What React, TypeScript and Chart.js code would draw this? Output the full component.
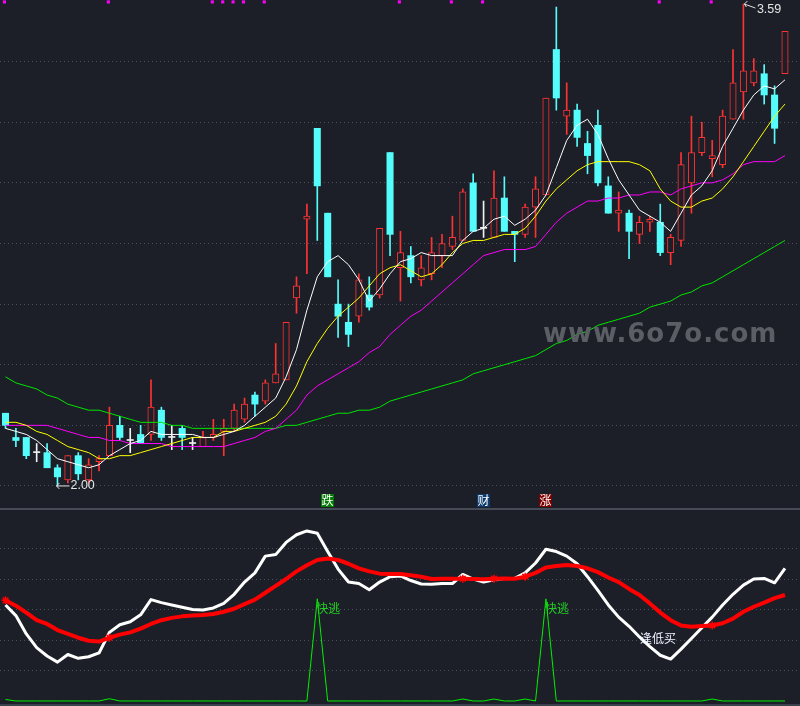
import React, { useEffect, useRef } from 'react';
import { Chart, registerables } from 'chart.js';

Chart.register(...registerables);

// ---------- DATA ----------
const openP = [2.24,2.16,2.16,2.11,2.11,2.06,2.02,2.10,2.02,2.08, 2.10,2.20,2.15,2.17,2.17,2.25,2.16,2.19,2.14,2.13, 2.16,2.18,2.19,2.22,2.30,2.28,2.34,2.35,2.62,2.88, 3.18,2.90,2.60,2.54,2.56,2.63,2.63,3.10,2.72,2.76, 2.68,2.70,2.76,2.79,2.81,3.00,2.85,2.82,2.95,2.84, 2.83,2.92,2.96,3.44,3.22,3.24,3.13,3.19,2.99,2.90, 2.90,2.83,2.87,2.87,2.77,2.81,3.00,3.10,3.08,3.06, 3.21,3.30,3.33,3.36,3.29,3.36];
const highP = [2.24,2.19,2.16,2.14,2.14,2.07,2.10,2.11,2.09,2.10, 2.26,2.23,2.19,2.20,2.35,2.26,2.20,2.20,2.16,2.18, 2.22,2.22,2.27,2.29,2.31,2.35,2.47,2.54,2.69,2.93, 3.18,2.90,2.68,2.60,2.70,2.69,2.85,3.10,2.84,2.79, 2.76,2.82,2.83,2.89,2.98,3.03,2.94,3.04,3.02,2.84, 2.93,3.02,3.28,3.58,3.33,3.26,3.17,3.24,3.02,2.97, 2.91,2.89,2.89,2.93,2.83,3.10,3.22,3.20,3.14,3.24, 3.44,3.59,3.41,3.39,3.32,3.50];
const lowP = [2.19,2.13,2.09,2.08,2.06,2.00,2.01,2.02,2.01,2.05, 2.10,2.15,2.11,2.14,2.15,2.15,2.12,2.12,2.12,2.13, 2.15,2.10,2.18,2.21,2.23,2.27,2.34,2.35,2.57,2.70, 2.81,2.69,2.49,2.46,2.54,2.58,2.62,2.76,2.61,2.67, 2.66,2.68,2.72,2.78,2.81,2.84,2.82,2.82,2.84,2.74, 2.82,2.82,2.96,3.24,3.16,3.12,3.03,2.99,2.90,2.84, 2.75,2.80,2.84,2.76,2.73,2.79,2.90,3.09,3.02,3.05, 3.21,3.21,3.32,3.26,3.13,3.36];
const closeP = [2.20,2.15,2.10,2.11,2.06,2.03,2.10,2.04,2.07,2.09, 2.20,2.16,2.15,2.14,2.26,2.16,2.16,2.16,2.14,2.16, 2.17,2.19,2.25,2.27,2.27,2.34,2.37,2.54,2.66,2.89, 2.99,2.69,2.56,2.50,2.68,2.59,2.85,2.83,2.77,2.69, 2.72,2.77,2.80,2.82,2.97,2.84,2.85,2.95,2.84,2.83, 2.92,2.98,3.28,3.28,3.24,3.15,3.09,3.00,2.90,2.91, 2.84,2.87,2.88,2.77,2.82,3.06,3.10,3.15,3.09,3.22, 3.33,3.37,3.37,3.29,3.18,3.50];

const ma5 = [2.19,2.18,2.17,2.15,2.12,2.09,2.08,2.07,2.06,2.07, 2.10,2.12,2.14,2.15,2.18,2.17,2.17,2.17,2.17,2.16, 2.16,2.17,2.18,2.20,2.23,2.26,2.29,2.36,2.45,2.58, 2.69,2.74,2.76,2.73,2.68,2.61,2.65,2.70,2.74,2.75, 2.77,2.76,2.76,2.76,2.81,2.84,2.85,2.88,2.89,2.86, 2.88,2.91,2.96,3.05,3.14,3.19,3.21,3.16,3.08,3.01, 2.96,2.91,2.89,2.87,2.84,2.90,2.96,2.99,3.04,3.12, 3.18,3.24,3.29,3.32,3.31,3.34];
const ma10 = [2.21,2.21,2.20,2.18,2.17,2.15,2.13,2.12,2.11,2.09, 2.09,2.10,2.10,2.11,2.12,2.13,2.14,2.15,2.16,2.16, 2.16,2.18,2.18,2.19,2.20,2.21,2.23,2.27,2.33,2.41, 2.47,2.52,2.56,2.59,2.62,2.66,2.70,2.72,2.73,2.71, 2.69,2.70,2.73,2.77,2.80,2.81,2.81,2.82,2.83,2.83, 2.85,2.89,2.94,2.98,3.01,3.04,3.06,3.07,3.07,3.07, 3.07,3.06,3.04,2.98,2.94,2.92,2.92,2.94,2.95,2.98, 3.02,3.07,3.12,3.17,3.22,3.26];
const ma20 = [2.20,2.20,2.20,2.20,2.20,2.19,2.18,2.17,2.16,2.16, 2.15,2.15,2.14,2.14,2.14,2.14,2.13,2.13,2.13,2.13, 2.13,2.13,2.14,2.15,2.16,2.18,2.19,2.22,2.25,2.30, 2.33,2.35,2.37,2.39,2.41,2.44,2.46,2.50,2.53,2.56, 2.58,2.61,2.64,2.67,2.70,2.73,2.76,2.77,2.78,2.78, 2.78,2.79,2.83,2.87,2.90,2.92,2.94,2.94,2.95,2.95, 2.96,2.96,2.97,2.97,2.96,2.98,2.99,3.00,3.00,3.01, 3.03,3.06,3.07,3.07,3.07,3.09];
const ma60 = [2.36,2.34,2.33,2.32,2.30,2.29,2.27,2.26,2.25,2.25, 2.24,2.23,2.22,2.21,2.21,2.21,2.20,2.20,2.19,2.19, 2.19,2.19,2.19,2.19,2.19,2.19,2.19,2.20,2.20,2.21, 2.22,2.23,2.24,2.24,2.25,2.25,2.26,2.28,2.29,2.30, 2.31,2.32,2.33,2.34,2.35,2.37,2.38,2.39,2.40,2.41, 2.42,2.43,2.45,2.47,2.48,2.50,2.51,2.53,2.54,2.55, 2.56,2.57,2.59,2.60,2.61,2.63,2.64,2.66,2.67,2.69, 2.71,2.73,2.75,2.77,2.79,2.81];

// top magenta markers (candle indices)
const topMarkIdx = [0,10,20,21,22,23,25,38,43,46,63,68];
// signal boxes under the candles
const signalIdx = [31,46,52];
const signalText = ['跌','财','涨'];
const signalBg = ['#007a00','#0c3b70','#7c0000'];

// lower oscillator
const oscFast = [63,56,44,35,29.5,25.5,30.5,28,29,31.5, 45,50,52,56.5,66.5,64.5,63,61.5,60,59.7, 61,64,70,78,84,95,96,104,109,111.5, 110,98,86.5,78,77,73,78,81.5,82,79, 76.7,76.5,77,77,83,80,78,79.5,80.4,80.4, 84,90.5,99.5,98,95,90,81.5,72.5,63,55, 49,42,35.6,30,27.5,34,41,48,55,63, 70,76,80,80.4,77.5,87];
const oscSlow = [66,62.5,58,53,50.5,46.5,44,41.5,39.5,39, 41.5,43.5,45,47.5,50.5,53,54.5,55.5,56,56.4, 57,58.5,60.5,63.5,66.5,71,75.5,80,85,89, 92.5,93.5,92.5,90,87,85,83.5,83.3,83.3,82.5, 81.5,80,80.2,80.2,80.2,80,79.8,80.2,80.4,80.2, 81.5,84,87.5,88.5,89.2,88.5,87,84.5,81,78, 73.5,69.5,64,58,53,49.5,48.7,49.2,49.5,51, 54,58.5,61.8,64.5,67.5,69.5];
const escape = [1,0,0,0,0,0,0,0,0,0, 1.5,0,0,0,0,0,0,0,0,0, 0,0,0,0,0,0,0,0,0,0, 67,0,0,0,0,0,0,0,0,0, 0,0,0,0,1.3,0,0,1.3,0,0, 1.3,0,67,0,0,0,0,0,0,0, 0,0,0,0,0,0,0,0,1.3,0, 0,0,0,0,0,0];
const starIdx = [0,10,44,47,50,68];
const escapeLabel = '快逃';
const buyLabel = '逢低买';
const buyLabelIdx = 61;
const buyLabelValue = 41.3;

// ---------- STYLE ----------
const BG = '#1c1f27';
const GRID = '#4a4f59';
const RED = '#ff3232';
const CYAN = '#54fcfc';
const WHITE = '#f0f0f0';
const X_MIN = -0.529;
const X_MAX = 76.446;

const pts = (arr: number[]) => arr.map((v, i) => ({ x: i, y: v }));

const xScale = { type: 'linear', min: X_MIN, max: X_MAX, display: false, offset: false, grid: { offset: false } };

export default function App() {
  const topRef = useRef<HTMLCanvasElement>(null);
  const botRef = useRef<HTMLCanvasElement>(null);

  useEffect(() => {
    const n = openP.length;
    const colorOf = (i: number) =>
      closeP[i] > openP[i] ? RED : closeP[i] < openP[i] ? CYAN : WHITE;
    const colors = openP.map((_, i) => colorOf(i));
    const bodyBg = openP.map((_, i) => (closeP[i] > openP[i] ? BG : colors[i]));
    const bodyBw = openP.map((_, i) => (closeP[i] > openP[i] ? 1 : 0));

    const mainDecor = {
      id: 'mainDecor',
      afterDatasetsDraw(chart: any) {
        const ctx = chart.ctx;
        const xs = chart.scales.x;
        const ys = chart.scales.y;
        ctx.save();
        // signal boxes
        ctx.font = '12px "Noto Sans CJK SC"';
        ctx.textAlign = 'center';
        ctx.textBaseline = 'middle';
        signalIdx.forEach((idx, k) => {
          const px = Math.round(xs.getPixelForValue(idx)) - 1;
          const py = ys.getPixelForValue(1.9537);
          ctx.fillStyle = signalBg[k];
          ctx.fillRect(px - 6, Math.round(py) - 6, 13, 13);
          ctx.fillStyle = '#ffffff';
          ctx.fillText(signalText[k], px + 0.5, Math.round(py) + 0.5);
        });
        // max / min labels
        let imax = 0, imin = 0;
        for (let i = 0; i < n; i++) {
          if (highP[i] > highP[imax]) imax = i;
          if (lowP[i] < lowP[imin]) imin = i;
        }
        ctx.strokeStyle = '#e0e0e0';
        ctx.fillStyle = '#e6e6e6';
        ctx.lineWidth = 1;
        ctx.font = '12.5px "Liberation Sans"';
        ctx.textAlign = 'left';
        {
          const px = xs.getPixelForValue(imax);
          const py = ys.getPixelForValue(highP[imax]);
          ctx.beginPath();
          ctx.moveTo(px + 12, py + 4);
          ctx.lineTo(px + 1, py);
          ctx.moveTo(px + 1, py);
          ctx.lineTo(px + 4, py - 3);
          ctx.moveTo(px + 1, py);
          ctx.lineTo(px + 3, py + 3);
          ctx.stroke();
          ctx.fillText(highP[imax].toFixed(2), px + 13.5, py + 5.5);
        }
        {
          const px = xs.getPixelForValue(imin);
          const py = ys.getPixelForValue(lowP[imin]);
          ctx.beginPath();
          ctx.moveTo(px - 1, py);
          ctx.lineTo(px + 12, py);
          ctx.moveTo(px - 1, py);
          ctx.lineTo(px + 2, py - 3);
          ctx.moveTo(px - 1, py);
          ctx.lineTo(px + 2, py + 3);
          ctx.stroke();
          ctx.fillText(lowP[imin].toFixed(2), px + 13, py);
        }
        // watermark
        ctx.font = 'bold 26px "DejaVu Sans"';
        (ctx as any).letterSpacing = '1px';
        ctx.fillStyle = '#5b5e65';
        ctx.textBaseline = 'alphabetic';
        ctx.fillText('www.6o7o.com', 543, 342);
        ctx.restore();
      },
    };

    const c1 = new Chart(topRef.current as HTMLCanvasElement, {
      type: 'bar',
      data: {
        datasets: [
          {
            type: 'bar',
            data: openP.map((_, i) => ({ x: i, y: [lowP[i], highP[i]] })) as any,
            backgroundColor: colors,
            borderWidth: 0,
            barThickness: 1,
            grouped: false,
            order: 6,
          } as any,
          {
            type: 'bar',
            data: openP.map((o, i) => ({ x: i, y: [o, closeP[i]] })) as any,
            backgroundColor: bodyBg,
            borderColor: colors,
            borderWidth: bodyBw,
            borderSkipped: false,
            barThickness: 6.4,
            minBarLength: 1,
            grouped: false,
            order: 5,
          } as any,
          { type: 'line', data: pts(ma60), borderColor: '#00e600', borderWidth: 1, pointRadius: 0, order: 4 } as any,
          { type: 'line', data: pts(ma20), borderColor: '#ff00ff', borderWidth: 1, pointRadius: 0, order: 3 } as any,
          { type: 'line', data: pts(ma10), borderColor: '#ffff00', borderWidth: 1, pointRadius: 0, order: 2 } as any,
          { type: 'line', data: pts(ma5), borderColor: '#ffffff', borderWidth: 1, pointRadius: 0, order: 1 } as any,
          {
            type: 'line',
            data: topMarkIdx.map((i) => ({ x: i - 0.1, y: 3.597 })),
            showLine: false,
            pointStyle: 'rect',
            pointRadius: 2.2,
            pointBorderWidth: 0,
            backgroundColor: '#ff00ff',
            borderColor: '#ff00ff',
            order: 0,
          } as any,
        ],
      },
      options: {
        responsive: false,
        devicePixelRatio: 1,
        animation: false,
        events: [],
        layout: { padding: 0, autoPadding: false },
        plugins: { legend: { display: false }, tooltip: { enabled: false } },
        scales: {
          x: xScale,
          y: {
            type: 'linear',
            min: 1.9273,
            max: 3.6033,
            ticks: { display: false, stepSize: 0.2, includeBounds: false },
            grid: {
              color: (c: any) => (c.tick && c.tick.value > 1.99 && c.tick.value < 3.5 ? GRID : 'rgba(0,0,0,0)'),
              drawTicks: false,
              tickLength: 0,
            },
            border: { display: false, dash: [1, 3] },
            afterFit: (s: any) => { s.width = 0; },
          } as any,
        },
      } as any,
      plugins: [mainDecor],
    });

    const subDecor = {
      id: 'subDecor',
      afterDatasetsDraw(chart: any) {
        const ctx = chart.ctx;
        const xs = chart.scales.x;
        const ys = chart.scales.y;
        ctx.save();
        ctx.fillStyle = '#464c57';
        ctx.fillRect(0, 0, 800, 2);
        ctx.fillStyle = '#3a3f49';
        ctx.fillRect(0, 196, 800, 2);
        ctx.font = '12px "Noto Sans CJK SC"';
        ctx.textAlign = 'left';
        ctx.textBaseline = 'middle';
        ctx.fillStyle = '#22d022';
        escape.forEach((v, i) => {
          if (v > 50) {
            const px = xs.getPixelForValue(i);
            const py = ys.getPixelForValue(v);
            ctx.fillText(escapeLabel, px - 1, py + 9.5);
          }
        });
        ctx.fillStyle = '#eef3ff';
        ctx.fillText(buyLabel, xs.getPixelForValue(buyLabelIdx) + 0.5, ys.getPixelForValue(buyLabelValue));
        ctx.restore();
      },
    };

    const c2 = new Chart(botRef.current as HTMLCanvasElement, {
      type: 'line',
      data: {
        datasets: [
          { data: pts(escape), borderColor: '#00f000', borderWidth: 1, pointRadius: 0, order: 3 } as any,
          { data: pts(oscFast), borderColor: '#ffffff', borderWidth: 3, pointRadius: 0, borderJoinStyle: 'round', order: 2 } as any,
          { data: pts(oscSlow), borderColor: '#ff0000', borderWidth: 4, pointRadius: 0, borderJoinStyle: 'round', order: 1 } as any,
          {
            data: starIdx.map((i) => ({ x: i, y: oscSlow[i] })),
            showLine: false,
            pointStyle: 'star',
            pointRadius: 4,
            pointBorderWidth: 1.5,
            borderColor: '#ff0000',
            backgroundColor: '#ff0000',
            order: 0,
          } as any,
        ],
      },
      options: {
        responsive: false,
        devicePixelRatio: 1,
        animation: false,
        events: [],
        layout: { padding: 0, autoPadding: false },
        plugins: { legend: { display: false }, tooltip: { enabled: false } },
        scales: {
          x: xScale,
          y: {
            type: 'linear',
            min: -3.28,
            max: 126.56,
            ticks: { display: false, stepSize: 20, includeBounds: false },
            grid: {
              color: (c: any) => (c.tick && c.tick.value > 10 && c.tick.value < 110 ? GRID : 'rgba(0,0,0,0)'),
              drawTicks: false,
              tickLength: 0,
            },
            border: { display: false, dash: [1, 3] },
            afterFit: (s: any) => { s.width = 0; },
          } as any,
        },
      } as any,
      plugins: [subDecor],
    });

    return () => {
      c1.destroy();
      c2.destroy();
    };
  }, []);

  return (
    <div style={{ position: 'fixed', left: 0, top: 0, width: 800, height: 706, background: BG, overflow: 'hidden' }}>
      <canvas ref={topRef} width={800} height={508} style={{ position: 'absolute', left: 0, top: 0, display: 'block' }} />
      <canvas ref={botRef} width={800} height={198} style={{ position: 'absolute', left: 0, top: 508, display: 'block' }} />
    </div>
  );
}
